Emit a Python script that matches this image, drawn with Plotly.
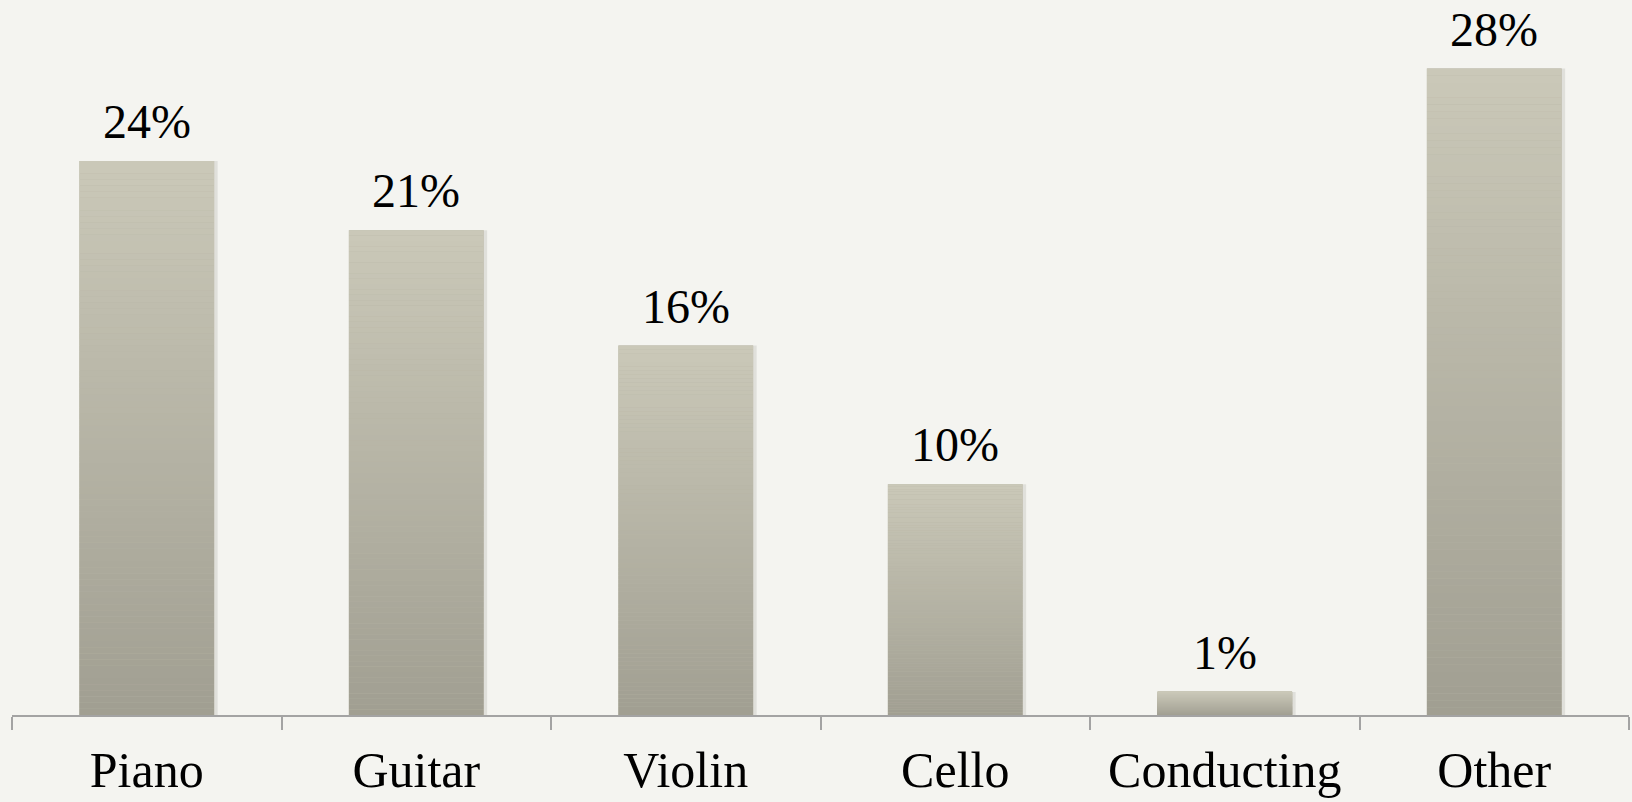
import plotly.graph_objects as go

# Share of students by instrument / discipline
categories = ["Piano", "Guitar", "Violin", "Cello", "Conducting", "Other"]
shares = [24, 21, 16, 10, 1, 28]
value_labels = ["24%", "21%", "16%", "10%", "1%", "28%"]

BG = "#F4F4F0"
TOP_RGB = (202, 200, 184)
BOTTOM_RGB = (161, 159, 146)
AXIS_GREY = "#A3A3A3"
SERIF = "Liberation Serif, Times New Roman, serif"
N_SLICES = 90
BAR_WIDTH = 0.5


def blend(t):
    r, g, b = (round(lo + (hi - lo) * t) for lo, hi in zip(BOTTOM_RGB, TOP_RGB))
    return f"rgb({r},{g},{b})"


fig = go.Figure()

# soft drop shadow behind each bar
fig.add_trace(go.Bar(
    x=categories, y=shares, width=BAR_WIDTH + 0.01, offset=-BAR_WIDTH / 2 + 0.003,
    marker=dict(color="rgba(90,90,80,0.13)", line=dict(width=0)),
    hoverinfo="skip", showlegend=False,
))

# main bars
fig.add_trace(go.Bar(
    x=categories, y=shares, width=BAR_WIDTH,
    marker=dict(color=blend(0.5), line=dict(width=0)),
    hovertemplate="%{x}: %{y}%<extra></extra>", showlegend=False,
))

# vertical gradient: each bar is shaded bottom-to-top in thin bands
for k in range(N_SLICES):
    fig.add_trace(go.Bar(
        x=categories,
        y=[v / N_SLICES for v in shares],
        base=[v * k / N_SLICES for v in shares],
        width=BAR_WIDTH,
        marker=dict(color=blend(k / (N_SLICES - 1)), line=dict(width=0)),
        hoverinfo="skip", showlegend=False,
    ))

for cat, v, lab in zip(categories, shares, value_labels):
    fig.add_annotation(
        x=cat, y=v, text=lab, showarrow=False, yanchor="bottom", yshift=11,
        font=dict(family=SERIF, size=48, color="#000000"),
    )

fig.update_layout(
    width=1632, height=802,
    margin=dict(l=12, r=3, t=0, b=87, autoexpand=False),
    paper_bgcolor=BG, plot_bgcolor=BG,
    barmode="overlay", bargap=0.5,
    xaxis=dict(
        type="category", range=[-0.5, 5.5], automargin=False,
        showline=True, linecolor=AXIS_GREY, linewidth=2,
        ticks="outside", tickson="boundaries", ticklen=13, tickwidth=2,
        tickcolor=AXIS_GREY, showgrid=False, zeroline=False,
        ticklabelstandoff=10,
        tickfont=dict(family=SERIF, size=50, color="#000000"),
    ),
    yaxis=dict(range=[0, 30.97], visible=False, showgrid=False, zeroline=False),
)

fig.write_html("out.html")
